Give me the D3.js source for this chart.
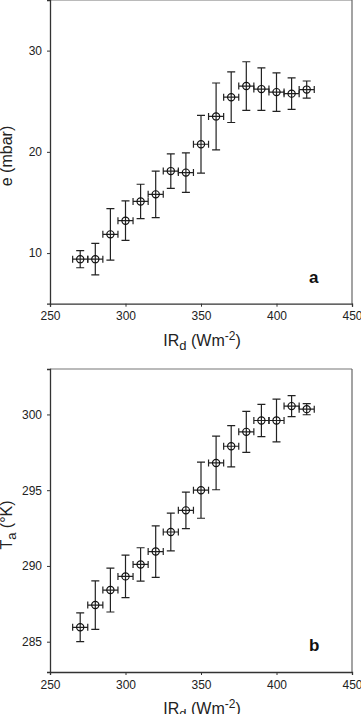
<!DOCTYPE html>
<html>
<head>
<meta charset="utf-8">
<script src="https://cdn.jsdelivr.net/npm/d3@7"></script>
<style>
  html, body { margin: 0; padding: 0; background: #fff; }
  svg { display: block; font-family: "Liberation Sans", Arial, sans-serif; }
</style>
</head>
<body>
<div id="chart"></div>
<script>
// downward longwave (Wm-2) bins
const irBins = [270, 280, 290, 300, 310, 320, 330, 340, 350, 360, 370, 380, 390, 400, 410, 420];
const irErr = 5;

// panel a: vapour pressure e (mbar)
const eMean = [9.4, 9.4, 11.85, 13.2, 15.1, 15.8, 18.1, 17.95, 20.75, 23.5, 25.4, 26.5, 26.2, 25.9, 25.75, 26.15];
const eErr = [0.85, 1.55, 2.55, 1.95, 1.7, 2.3, 1.7, 1.95, 2.85, 3.3, 2.5, 2.4, 2.1, 1.9, 1.55, 0.85];

// panel b: air temperature Ta (K)
const taMean = [285.95, 287.42, 288.41, 289.31, 290.1, 290.95, 292.24, 293.67, 295.0, 296.8, 297.9, 298.85, 299.6, 299.6, 300.55, 300.35];
const taErr = [0.95, 1.6, 1.45, 1.4, 1.1, 1.7, 1.25, 1.2, 1.85, 1.77, 1.36, 1.35, 1.07, 1.41, 0.69, 0.37];

const xTicks = [250, 300, 350, 400, 450];
const eTicks = [10, 20, 30];
const taTicks = [285, 290, 295, 300];

const W = 361, H = 714;
const svg = d3.select('#chart').append('svg').attr('width', W).attr('height', H);

function drawPanel(opts) {
  const { top, bottom, yDomain, yTicks, means, errs, letter, yLabel } = opts;
  const left = 50, right = 352;
  const x = d3.scaleLinear().domain([250, 450]).range([left, right]);
  const y = d3.scaleLinear().domain(yDomain).range([bottom, top]);
  const g = svg.append('g');

  // frame
  g.append('line').attr('x1', left).attr('x2', right).attr('y1', top).attr('y2', top)
    .attr('stroke', '#777').attr('stroke-width', 1.2);
  g.append('line').attr('x1', right).attr('x2', right).attr('y1', top).attr('y2', bottom)
    .attr('stroke', '#666').attr('stroke-width', 1.2);

  const xAxis = g.append('g').attr('transform', `translate(0,${bottom})`)
    .call(d3.axisBottom(x).tickValues(xTicks).tickSize(3).tickPadding(5));
  const yAxis = g.append('g').attr('transform', `translate(${left},0)`)
    .call(d3.axisLeft(y).tickValues(yTicks).tickSize(3).tickPadding(5));
  [xAxis, yAxis].forEach((ax) => {
    ax.select('.domain').attr('stroke', '#333').attr('stroke-width', 1.3);
    ax.selectAll('.tick line').attr('stroke', '#333');
    ax.selectAll('.tick text').attr('font-size', 12).attr('fill', '#222')
      .attr('font-family', '"Liberation Sans", Arial, sans-serif');
  });

  const pts = irBins.map((v, i) => ({ x: v, y: means[i], e: errs[i] }));
  const marks = g.append('g').attr('stroke', '#222').attr('stroke-width', 1.2).attr('fill', 'none');
  const cap = 4;

  // vertical error bars
  marks.selectAll('.vbar').data(pts).join('path').attr('class', 'vbar')
    .attr('d', (d) => {
      const cx = x(d.x), y1 = y(d.y + d.e), y2 = y(d.y - d.e);
      return `M${cx},${y1}V${y2}M${cx - cap},${y1}H${cx + cap}M${cx - cap},${y2}H${cx + cap}`;
    });
  // horizontal error bars
  marks.selectAll('.hbar').data(pts).join('path').attr('class', 'hbar')
    .attr('d', (d) => {
      const cy = y(d.y), x1 = x(d.x - irErr), x2 = x(d.x + irErr);
      return `M${x1},${cy}H${x2}M${x1},${cy - 3.5}V${cy + 3.5}M${x2},${cy - 3.5}V${cy + 3.5}`;
    });
  marks.selectAll('circle').data(pts).join('circle')
    .attr('cx', (d) => x(d.x)).attr('cy', (d) => y(d.y)).attr('r', 3.6)
    .attr('stroke', '#111').attr('stroke-width', 1.2);

  // panel letter
  g.append('text').attr('x', 309).attr('y', bottom - 21).attr('font-size', 17)
    .attr('font-weight', 'bold').attr('fill', '#111').text(letter);

  // x label
  const xl = g.append('text').attr('x', (left + right) / 2 + 1).attr('y', bottom + 42)
    .attr('text-anchor', 'middle').attr('font-size', 16).attr('fill', '#222');
  xl.append('tspan').text('IR');
  xl.append('tspan').attr('font-size', 13).attr('dy', 4).text('d');
  xl.append('tspan').attr('dy', -4).text(' (Wm');
  xl.append('tspan').attr('font-size', 12).attr('dy', -6).text('-2');
  xl.append('tspan').attr('dy', 6).text(')');

  // y label
  const yl = g.append('text')
    .attr('transform', `translate(12,${yLabel.cy}) rotate(-90)`)
    .attr('text-anchor', 'middle').attr('font-size', 16).attr('fill', '#222');
  yLabel.parts.forEach((p) => {
    const t = yl.append('tspan').text(p.t);
    if (p.size) t.attr('font-size', p.size);
    if (p.dy) t.attr('dy', p.dy);
  });
}

drawPanel({
  top: 0, bottom: 303.7, yDomain: [5, 35], yTicks: eTicks,
  means: eMean, errs: eErr, letter: 'a',
  yLabel: { cy: 156, parts: [{ t: 'e (mbar)' }] }
});

drawPanel({
  top: 369, bottom: 672, yDomain: [283, 303], yTicks: taTicks,
  means: taMean, errs: taErr, letter: 'b',
  yLabel: { cy: 525, parts: [{ t: 'T' }, { t: 'a', size: 13, dy: 4 }, { t: ' (°K)', dy: -4 }] }
});
</script>
</body>
</html>
